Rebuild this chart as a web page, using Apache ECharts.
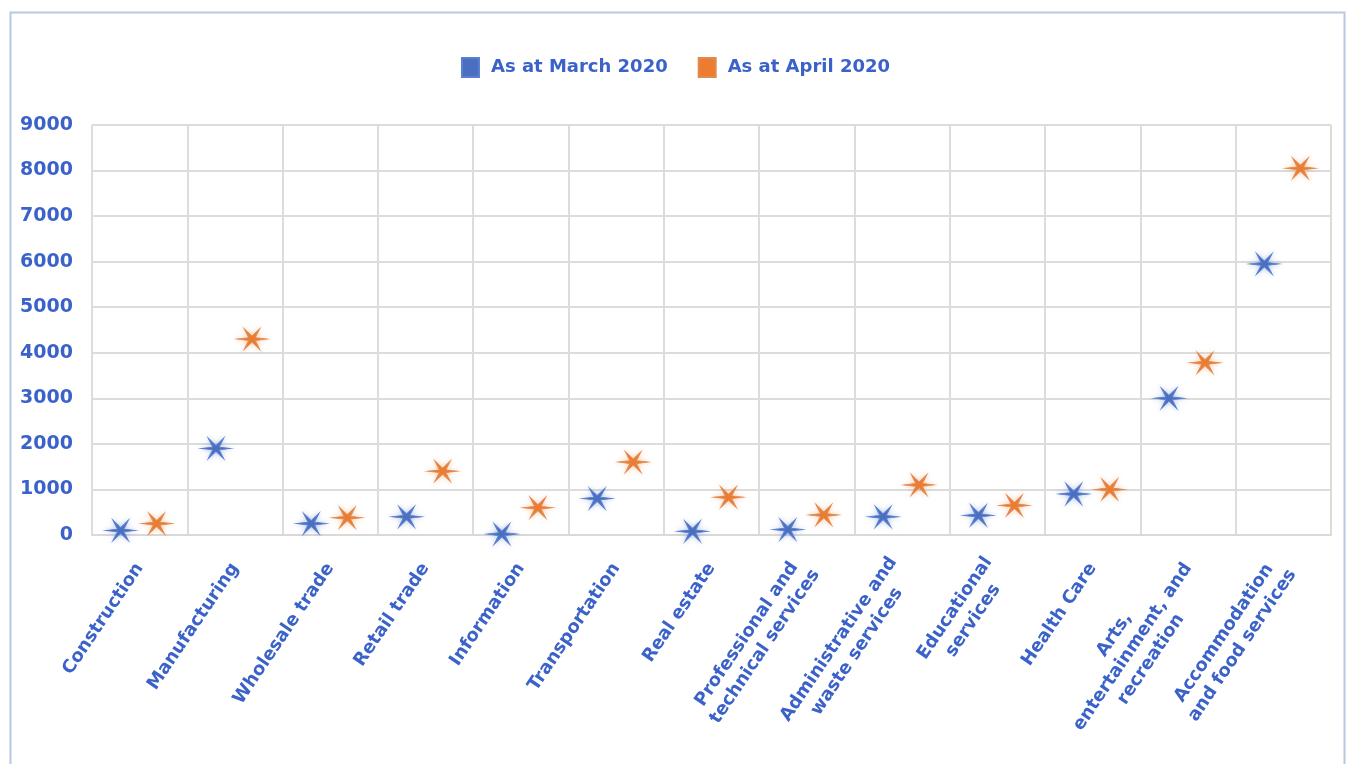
<!DOCTYPE html>
<html>
<head>
<meta charset="utf-8">
<script src="https://cdn.jsdelivr.net/npm/echarts@6/dist/echarts.min.js"></script>
<style>
html,body{margin:0;padding:0;background:#fff;}
#c{width:1351px;height:764px;}
</style>
</head>
<body>
<div id="c"></div>
<script>
const categories = ["Construction","Manufacturing","Wholesale trade","Retail trade","Information","Transportation","Real estate","Professional and\ntechnical services","Administrative and\nwaste services","Educational\nservices","Health Care","Arts,\nentertainment, and\nrecreation","Accommodation\nand food services"];
const seriesNames = ["As at March 2020","As at April 2020"];
const march = [100, 1900, 250, 400, 20, 800, 80, 120, 400, 430, 900, 3000, 5950];
const april = [250, 4300, 380, 1400, 600, 1600, 830, 440, 1100, 650, 1000, 3780, 8050];
const yTicks = [0,1000,2000,3000,4000,5000,6000,7000,8000,9000];

const blue = '#4a6fc0', orange = '#ec7c30', textBlue = '#3b62c9';
const star = 'path://M100 50 L60.4 56 L75 93.3 L50 62 L25 93.3 L39.6 56 L0 50 L39.6 44 L25 6.7 L50 38 L75 6.7 L60.4 44 Z';
const font = '"DejaVu Sans", Arial, sans-serif';

const chart = echarts.init(document.getElementById('c'));
chart.setOption({
  animation: false,
  backgroundColor: '#fff',
  graphic: [{
    type: 'rect', left: 8, top: 10, shape: {width: 1334, height: 760},
    style: {fill: 'none', stroke: '#b9c7e2', lineWidth: 2}, silent: true
  }],
  legend: {
    top: 52, left: 'center', itemWidth: 17, itemHeight: 19, itemGap: 30,
    icon: 'rect',
    textStyle: {color: textBlue, fontSize: 18, fontWeight: 'bold', fontFamily: font, padding: [0, 0, 0, 7]},
    data: seriesNames
  },
  grid: {left: 92, right: 20, top: 125, bottom: 229, containLabel: false},
  xAxis: {
    type: 'category', data: categories, boundaryGap: true,
    axisLine: {lineStyle: {color: '#d9d9d9', width: 2}},
    axisTick: {show: false},
    splitLine: {show: true, interval: 0, lineStyle: {color: '#dcdcdc', width: 2}},
    axisLabel: {interval: 0, rotate: 56, margin: 30, color: textBlue, fontSize: 18, fontWeight: 'bold', fontFamily: font, lineHeight: 22,
      formatter: v => v.split('\n').map(s => '{c|' + s + '}').join('\n'),
      rich: {c: {align: 'center', color: textBlue, fontSize: 18, fontWeight: 'bold', fontFamily: font, lineHeight: 22}}
    }
  },
  yAxis: {
    type: 'value', min: 0, max: 9000, interval: 1000,
    axisLine: {show: false}, axisTick: {show: false},
    splitLine: {lineStyle: {color: '#dcdcdc', width: 2}},
    axisLabel: {color: textBlue, fontSize: 19, fontWeight: 'bold', fontFamily: font, margin: 19,
      formatter: v => yTicks.includes(v) ? String(v) : ''}
  },
  series: [
    {name: seriesNames[0], type: 'scatter', data: march, symbol: star, symbolSize: [30, 20], symbolOffset: [-19, 0],
     itemStyle: {color: blue, opacity: 1, borderColor: '#5a7fd0', borderWidth: 1, shadowColor: 'rgba(74,112,196,0.35)', shadowBlur: 5}},
    {name: seriesNames[1], type: 'scatter', data: april, symbol: star, symbolSize: [30, 20], symbolOffset: [17, 0],
     itemStyle: {color: orange, opacity: 1, borderColor: '#e08a50', borderWidth: 1, shadowColor: 'rgba(237,125,49,0.35)', shadowBlur: 5}}
  ]
});
</script>
</body>
</html>
